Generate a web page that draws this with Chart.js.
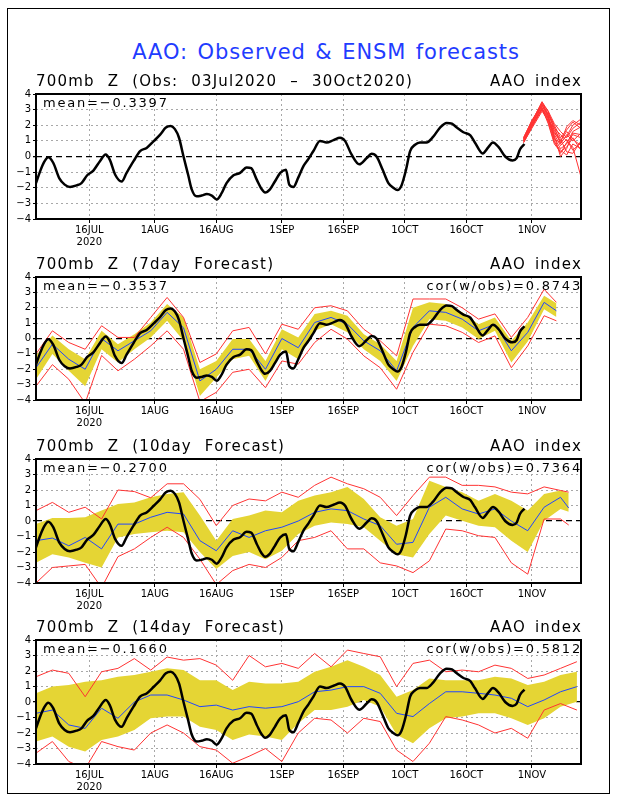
<!DOCTYPE html>
<html lang="en">
<head>
<meta charset="utf-8">
<title>AAO: Observed & ENSM forecasts</title>
<script src="https://cdn.jsdelivr.net/npm/chart.js"></script>
<style>
  body { margin: 0; background: #fff; width: 618px; height: 800px; position: relative; overflow: hidden; }
  #frame { position: absolute; left: 7px; top: 8px; width: 601px; height: 784px; border: 1px solid #000; }
  #title { position: absolute; left: 0; width: 652px; top: 40px; text-align: center; font: 21px "DejaVu Sans"; line-height: 24px;
           letter-spacing: 0.9px; word-spacing: 2px; color: #1f3cff; }
  canvas.panel { position: absolute; left: 0; }
</style>
</head>
<body>
<div id="frame"></div>
<div id="title">AAO: Observed &amp; ENSM forecasts</div>
<canvas id="p1" class="panel" width="618" height="185" style="top:64px"></canvas>
<canvas id="p2" class="panel" width="618" height="183" style="top:247px"></canvas>
<canvas id="p3" class="panel" width="618" height="184" style="top:429px"></canvas>
<canvas id="p4" class="panel" width="618" height="184" style="top:610px"></canvas>
<script>
// x axis = days since 03Jul2020
const tickDays = [13, 29, 44, 60, 75, 90, 105, 121];
const tickNames = [['16JUL', '2020'], '1AUG', '16AUG', '1SEP', '16SEP', '1OCT', '16OCT', '1NOV'];

// observed AAO index (black)
const obsDays = [0, 1, 2, 3, 4.2, 5.7, 7, 8.3, 9.9, 11.1, 12.5, 14, 15.6, 17, 18, 19.3, 20.9, 22.1, 23.8, 25.4, 27, 28.8, 30.3, 31.7, 32.9, 33.9, 34.9, 36, 37.2, 38, 39.2, 40.4, 41.7, 42.9, 44.1, 45.3, 46.5, 48.2, 49.8, 51.4, 52.5, 53.9, 55.1, 55.9, 57.1, 58.3, 59.6, 61, 61.8, 62.8, 64, 65.3, 66.5, 67.7, 69.3, 70.9, 72.6, 74.2, 75.4, 77, 78.9, 80.7, 81.9, 83.1, 84.6, 86, 87.2, 88.2, 89.2, 90.3, 91.3, 92.5, 93.7, 95.3, 96.9, 98.6, 100.2, 101.5, 102.7, 104.3, 106, 107.1, 109, 110.4, 111.5, 112.9, 114.5, 116.3, 117.3, 118.1, 119.2];
const obsVals = [-1.7, -0.95, -0.35, -0.05, -0.4, -1.4, -1.8, -1.95, -1.85, -1.7, -1.2, -0.9, -0.3, 0.13, -0.2, -1.15, -1.6, -1.05, -0.3, 0.35, 0.55, 1.0, 1.4, 1.85, 1.95, 1.75, 1.2, 0, -1.25, -2.1, -2.55, -2.5, -2.4, -2.5, -2.75, -2.35, -1.7, -1.2, -1.05, -0.7, -0.75, -1.5, -2.1, -2.3, -2.1, -1.6, -1.05, -0.85, -1.8, -1.95, -1.35, -0.6, -0.15, 0.35, 1.0, 0.9, 1.05, 1.2, 1.0, 0.13, -0.5, -0.1, 0.17, 0, -0.85, -1.7, -2.0, -2.15, -1.85, -0.85, 0.35, 0.75, 0.9, 0.9, 1.25, 1.85, 2.15, 2.1, 1.85, 1.55, 1.35, 0.9, 0.2, 0.6, 0.9, 0.6, 0, -0.25, -0.1, 0.45, 0.8];

// panel 1: ensemble member forecasts (red)
const memberDays = [119, 121, 123.5, 125, 126.5, 128, 129.5, 131, 133];
const members = [
  [1.1, 2.2, 3.5, 2.9, 1.6, 0.9, 1.3, 2.0, 2.4],
  [1.0, 2.0, 3.3, 2.6, 1.2, 0.5, 0.8, 1.6, 1.9],
  [1.2, 2.3, 3.4, 2.7, 1.8, 1.4, 1.0, 0.6, -1.3],
  [0.9, 1.9, 3.1, 2.4, 1.0, 0.2, 0.9, 1.4, 1.2],
  [1.1, 2.1, 3.2, 2.8, 2.0, 1.2, 1.7, 2.2, 1.8],
  [1.0, 2.0, 3.0, 2.2, 0.9, 0.4, 0.1, 0.8, 0.5],
  [1.2, 2.2, 3.3, 2.5, 1.5, 1.0, 1.6, 1.1, 0.7],
  [0.9, 1.8, 2.9, 2.3, 1.3, 0.0, 0.5, 1.5, 1.4],
  [1.1, 2.1, 3.4, 2.9, 2.1, 1.6, 1.2, 1.8, 2.2],
  [1.0, 2.0, 3.1, 2.5, 1.4, 0.7, 1.1, 0.4, 0.9],
  [1.1, 2.2, 3.5, 2.6, 1.1, 0.9, 1.9, 2.3, 2.0],
  [1.0, 1.9, 3.0, 2.4, 1.7, 1.1, 0.3, 0.2, 1.0],
  [1.2, 2.3, 3.2, 2.7, 1.9, 0.8, 1.4, 1.0, 1.5],
  [0.9, 1.9, 3.1, 2.1, 0.8, 0.3, 0.6, 1.2, 0.4]
];

// panel 2: 7-day forecast
const d7Days = [0, 4, 8, 12, 16, 20, 24, 28, 32, 36, 40, 44, 48, 52, 56, 60, 64, 68, 72, 76, 80, 84, 88, 92, 96, 100, 104, 108, 112, 116, 120, 124, 127];
const d7Mean = [-1.9, -0.37, -1.35, -2.0, 0, -0.8, -0.15, 0.5, 1.7, 0.7, -2.76, -2.0, -0.7, -0.7, -2.0, 0, -0.6, 1.04, 1.37, 0.93, -0.15, -0.8, -2.1, 0.72, 1.8, 1.7, 1.26, 0.5, 0.93, -0.8, 0.4, 2.35, 1.8];
const d7BandHi = [-1.1, 0.2, -0.7, -1.35, 0.5, -0.37, 0.28, 1.04, 2.24, 1.37, -2.0, -1.46, -0.04, -0.04, -1.46, 0.6, 0.07, 1.6, 1.8, 1.48, 0.28, -0.37, -1.46, 2.0, 2.35, 2.24, 1.7, 0.93, 1.37, -0.15, 1.04, 2.78, 2.3];
const d7BandLo = [-2.65, -1.0, -2.1, -3.1, -0.7, -1.56, -0.7, 0.07, 1.15, -0.15, -3.74, -2.54, -1.35, -1.13, -2.76, -0.7, -1.35, 0.5, 0.93, 0.4, -0.7, -1.46, -2.76, -0.48, 1.26, 1.15, 0.72, -0.04, 0.5, -1.56, -0.2, 1.9, 1.4];
const d7Max = [-1.0, 0.5, -0.26, -0.7, 0.83, 0.07, 0.07, 1.37, 2.67, 1.37, -1.56, -1.0, 0.5, 0.72, -1.0, 0.93, 0.6, 2.0, 2.13, 1.8, 0.6, -0.15, -1.13, 2.57, 2.57, 2.57, 2.0, 1.26, 1.6, 0.07, 1.37, 3.2, 2.35];
const d7Min = [-3.1, -1.7, -2.65, -4.2, -1.1, -2.1, -1.35, -0.48, 0.5, -0.7, -4.1, -3.5, -2.2, -2.0, -3.2, -1.46, -1.67, -0.26, 0.6, -0.04, -1.13, -1.9, -3.3, -0.9, 0.93, 0.83, 0.4, -0.26, 0.17, -1.9, -0.48, 1.48, 1.15];

// panel 3: 10-day forecast
const d10Days = [0, 4, 8, 12, 16, 20, 24, 28, 32, 36, 40, 44, 48, 52, 56, 60, 64, 68, 72, 76, 80, 84, 88, 92, 96, 100, 104, 108, 112, 116, 120, 124, 128, 130];
const d10Mean = [-1.27, -1.1, -1.6, -1.06, -1.8, -0.2, -0.2, 0.24, 0.56, 0.45, -1.27, -1.92, -0.63, -1.06, -0.63, -0.4, 0, 0.56, 0.78, 0.67, 0.13, -0.3, -1.5, -1.38, 0.89, 1.53, 0.78, 0.45, 0.78, 0, -0.63, 0.89, 1.53, 0.84];
const d10BandHi = [-0.2, 0.2, 0.2, 0.24, 0.67, 1.1, 1.2, 1.53, 1.75, 1.86, 0.35, -1.27, 0.13, 0.35, 0.67, 0.56, 1.3, 1.64, 1.86, 2.2, 1.42, 0.24, -0.3, 0.13, 2.6, 2.2, 1.86, 1.3, 1.75, 1.3, 0.67, 1.75, 1.97, 1.8];
const d10BandLo = [-2.7, -2.15, -2.35, -2.7, -3.0, -1.06, -0.84, -0.73, -0.63, -0.73, -2.0, -3.1, -2.25, -2.0, -2.46, -1.92, -0.84, -0.3, -0.1, -0.2, -0.4, -1.27, -2.14, -2.35, -0.84, 0.35, 0.02, -0.3, -0.4, -1.27, -2.0, 0.02, 0.78, 0.6];
const d10Max = [0.67, 1.2, 0.56, 0.89, 0.13, 2.0, 1.9, 1.5, 2.4, 2.4, 1.4, -0.3, 1.0, 1.42, 1.3, 1.86, 1.53, 2.3, 2.83, 2.4, 2.08, 1.53, 0.35, 1.64, 2.83, 2.83, 2.3, 2.3, 2.2, 1.86, 1.75, 2.2, 1.97, 1.86];
const d10Min = [-4.0, -3.0, -2.9, -2.8, -4.3, -2.3, -1.8, -1.06, -0.4, -1.06, -2.46, -4.1, -3.2, -2.8, -3.0, -2.35, -1.27, -1.06, -0.63, -1.8, -1.8, -2.7, -2.9, -3.33, -2.57, -0.52, -0.63, -0.95, -1.06, -2.7, -3.43, 0.13, 0.13, -0.26];

// panel 4: 14-day forecast
const d14Days = [0, 4, 8, 12, 16, 20, 24, 28, 32, 36, 40, 44, 48, 52, 56, 60, 64, 68, 72, 76, 80, 84, 88, 92, 96, 100, 104, 108, 112, 116, 120, 124, 128, 132];
const d14Mean = [-0.73, -0.52, -1.48, -1.7, -0.4, -1.05, 0, 0.45, 0.45, 0.13, -0.3, -0.2, -0.52, -0.3, -0.4, -0.3, 0.02, 0.66, 0.77, 0.99, 0.99, 0.56, -0.73, -0.94, -0.1, 0.66, 0.66, 0.56, 0.45, 0.24, -0.3, 0.13, 0.66, 0.99];
const d14BandHi = [0.56, 1.0, 1.1, 1.3, 1.4, 1.63, 1.74, 1.95, 2.17, 2.06, 1.4, 1.4, 0.77, 1.3, 1.2, 1.2, 1.3, 1.95, 2.27, 2.7, 2.27, 1.74, 0.34, 0.77, 1.52, 1.4, 1.4, 1.4, 1.63, 1.52, 1.1, 1.3, 1.74, 1.95];
const d14BandLo = [-2.55, -2.23, -2.88, -3.2, -2.45, -2.23, -1.8, -1.05, -0.94, -0.94, -1.6, -1.8, -2.45, -2.1, -2.23, -2.45, -1.37, -0.52, -0.52, -0.3, 0.13, -0.3, -2.12, -2.66, -1.7, -1.05, -0.94, -0.73, -0.73, -1.05, -1.48, -1.05, -0.3, 0.02];
const d14Max = [1.63, 2.06, 1.85, 0.34, 1.95, 2.17, 2.8, 2.06, 2.9, 2.7, 2.8, 2.38, 1.4, 3.0, 2.27, 2.49, 2.17, 3.13, 2.27, 3.35, 3.13, 2.92, 0.99, 2.49, 2.7, 1.95, 2.06, 1.95, 2.38, 2.17, 1.52, 1.74, 2.17, 2.6];
const d14Min = [-3.3, -2.55, -3.84, -4.3, -2.55, -2.88, -3.1, -2.0, -1.48, -2.0, -2.88, -3.1, -3.95, -3.5, -3.0, -3.84, -2.0, -1.05, -1.16, -2.0, -1.05, -1.26, -3.1, -3.84, -2.66, -0.94, -1.16, -1.48, -2.0, -1.7, -2.34, -0.52, -0.1, -0.52];

const RED = '#ff3333', BLUE = '#2146ff', YELLOW = '#e5d534';

function pts(days, vals) {
  return days.map((d, i) => ({x: d, y: vals[i]}));
}

function line(days, vals, color, width, extra) {
  return Object.assign({
    data: pts(days, vals),
    borderColor: color,
    borderWidth: width,
    pointRadius: 0,
    tension: 0,
    fill: false
  }, extra || {});
}

// frame + panel texts
const panelText = {
  id: 'panelText',
  afterDraw(chart, args, opts) {
    const {ctx, chartArea: a} = chart;
    ctx.save();
    ctx.strokeStyle = '#000';
    ctx.lineWidth = 2;
    ctx.strokeRect(a.left, a.top, a.right - a.left, a.bottom - a.top);
    ctx.fillStyle = '#000';
    ctx.textBaseline = 'middle';
    ctx.font = '15px "DejaVu Sans"';
    ctx.letterSpacing = '1.2px';
    ctx.wordSpacing = '7px';
    ctx.textAlign = 'left';
    ctx.fillText(opts.title, a.left, a.top - 12);
    ctx.wordSpacing = '3px';
    ctx.textAlign = 'right';
    ctx.fillText('AAO index', a.right + 1, a.top - 12);
    ctx.font = '13px "DejaVu Sans"';
    ctx.letterSpacing = '1.8px';
    ctx.wordSpacing = '0px';
    ctx.textAlign = 'left';
    ctx.fillText(opts.mean, a.left + 7, a.top + 10);
    if (opts.cor) {
      ctx.textAlign = 'right';
      ctx.fillText(opts.cor, a.right + 1, a.top + 10);
    }
    ctx.restore();
  }
};

function makePanel(id, datasets, text) {
  new Chart(document.getElementById(id), {
    type: 'line',
    data: {datasets: datasets},
    plugins: [panelText],
    options: {
      responsive: false,
      animation: false,
      layout: {padding: {top: 30, left: 0, right: 37, bottom: 0}},
      plugins: {legend: {display: false}, tooltip: {enabled: false}, panelText: text},
      scales: {
        x: {
          type: 'linear', min: 0, max: 133,
          afterBuildTicks: s => { s.ticks = tickDays.map(v => ({value: v})); },
          afterFit: s => { s.height = 30; },
          ticks: {
            callback: (v, i) => tickNames[i],
            autoSkip: false, maxRotation: 0, padding: 1, color: '#000',
            font: {family: 'DejaVu Sans', size: 10, lineHeight: 1.2}
          },
          grid: {color: '#a8a8a8', lineWidth: 1, tickLength: 4, tickColor: '#000'},
          border: {display: false, dash: [2, 3]}
        },
        y: {
          min: -4, max: 4,
          afterFit: s => { s.width = 36; },
          ticks: {
            stepSize: 1, padding: 2, color: '#000',
            font: {family: 'DejaVu Sans', size: 10},
            callback: v => String(v).replace('-', '\u2212')
          },
          grid: {
            color: c => c.tick && c.tick.value === 0 ? '#000' : '#a8a8a8',
            lineWidth: c => c.tick && c.tick.value === 0 ? 1.3 : 1,
            tickLength: 3, tickColor: '#000'
          },
          border: {display: false, dash: c => c.tick && c.tick.value === 0 ? [6, 4] : [2, 3]}
        }
      }
    }
  });
}

function obsLine() {
  return line(obsDays, obsVals, '#000', 2.5, {cubicInterpolationMode: 'monotone'});
}

function forecastSets(days, mean, hi, lo, max, min) {
  return [
    obsLine(),
    line(days, mean, BLUE, 1),
    line(days, max, RED, 1),
    line(days, min, RED, 1),
    line(days, lo, 'rgba(0,0,0,0)', 1),
    line(days, hi, 'rgba(0,0,0,0)', 1, {fill: '-1', backgroundColor: YELLOW})
  ];
}

makePanel('p1', [obsLine()].concat(members.map(m => line(memberDays, m, RED, 1))),
  {title: '700mb Z (Obs: 03Jul2020 \u2013 30Oct2020)', mean: 'mean=\u22120.3397'});
makePanel('p2', forecastSets(d7Days, d7Mean, d7BandHi, d7BandLo, d7Max, d7Min),
  {title: '700mb Z (7day Forecast)', mean: 'mean=\u22120.3537', cor: 'cor(w/obs)=0.8743'});
makePanel('p3', forecastSets(d10Days, d10Mean, d10BandHi, d10BandLo, d10Max, d10Min),
  {title: '700mb Z (10day Forecast)', mean: 'mean=\u22120.2700', cor: 'cor(w/obs)=0.7364'});
makePanel('p4', forecastSets(d14Days, d14Mean, d14BandHi, d14BandLo, d14Max, d14Min),
  {title: '700mb Z (14day Forecast)', mean: 'mean=\u22120.1660', cor: 'cor(w/obs)=0.5812'});
</script>
</body>
</html>
